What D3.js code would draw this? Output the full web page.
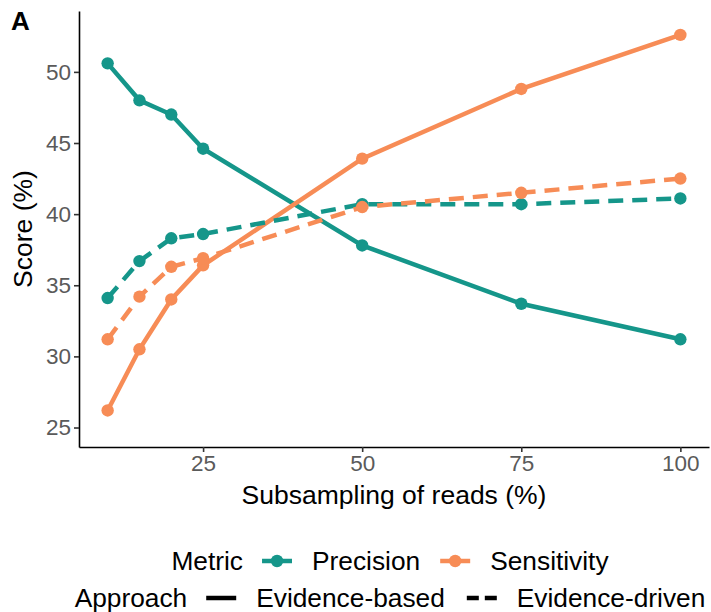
<!DOCTYPE html>
<html lang="en">
<head>
  <meta charset="UTF-8">
  <title>Score vs subsampling</title>
  <script src="https://d3js.org/d3.v7.min.js"></script>
  <style>
    body, html { margin: 0; padding: 0; background: #fff; }
    text { font-family: "Liberation Sans", Arial, sans-serif; }
  </style>
</head>
<body>
<script>
  // data
  const subsampling = [10, 15, 20, 25, 50, 75, 100];
  const precisionBased = [50.6, 48.0, 47.0, 44.6, 37.8, 33.7, 31.2];
  const sensitivityBased = [26.2, 30.5, 34.0, 36.4, 43.9, 48.8, 52.6];
  const precisionDriven = [34.1, 36.7, 38.3, 38.6, 40.7, 40.7, 41.1];
  const sensitivityDriven = [31.2, 34.2, 36.3, 36.9, 40.5, 41.5, 42.5];
  const xTicks = [25, 50, 75, 100];
  const yTicks = [25, 30, 35, 40, 45, 50];
  const metrics = ["Precision", "Sensitivity"];
  const approaches = ["Evidence-based", "Evidence-driven"];

  const colors = { Precision: "#15968a", Sensitivity: "#f78c56" };
  const dashes = { "Evidence-based": null, "Evidence-driven": "15,9" };

  const series = [
    { metric: "Precision", approach: "Evidence-based", values: precisionBased },
    { metric: "Sensitivity", approach: "Evidence-based", values: sensitivityBased },
    { metric: "Precision", approach: "Evidence-driven", values: precisionDriven },
    { metric: "Sensitivity", approach: "Evidence-driven", values: sensitivityDriven }
  ];

  const W = 711, H = 612;
  const pLeft = 79, pRight = 709, pTop = 11, pBottom = 447;

  const svg = d3.select("body").append("svg")
    .attr("width", W).attr("height", H);

  const x = d3.scaleLinear().domain([5.5, 104.5]).range([pLeft, pRight]);
  const y = d3.scaleLinear().domain([23.63, 54.28]).range([pBottom, pTop]);

  // axes
  const xAxis = svg.append("g")
    .attr("transform", `translate(0,${pBottom})`)
    .call(d3.axisBottom(x).tickValues(xTicks).tickSize(5).tickPadding(3).tickSizeOuter(0));
  const yAxis = svg.append("g")
    .attr("transform", `translate(${pLeft},0)`)
    .call(d3.axisLeft(y).tickValues(yTicks).tickSize(5).tickPadding(3).tickSizeOuter(0));

  [xAxis, yAxis].forEach(a => {
    a.select(".domain").attr("stroke", "#000").attr("stroke-width", 1.6);
    a.selectAll(".tick line").attr("stroke", "#333").attr("stroke-width", 1.6);
    a.selectAll(".tick text").attr("fill", "#5a5a5a")
      .style("font-size", "22.5px").style("font-family", "Liberation Sans, Arial, sans-serif");
  });
  xAxis.selectAll(".tick text").attr("dy", "0.72em");

  svg.append("text")
    .attr("x", (pLeft + pRight) / 2).attr("y", 495).attr("dy", "0.35em")
    .attr("text-anchor", "middle")
    .style("font-size", "26.5px")
    .text("Subsampling of reads (%)");

  svg.append("text")
    .attr("transform", `translate(23,${(pTop + pBottom) / 2}) rotate(-90)`)
    .attr("dy", "0.35em")
    .attr("text-anchor", "middle")
    .style("font-size", "26.5px")
    .text("Score (%)");

  svg.append("text")
    .attr("x", 11).attr("y", 30)
    .style("font-size", "26px").style("font-weight", "bold")
    .text("A");

  // lines and points
  const line = d3.line()
    .x((d, i) => x(subsampling[i]))
    .y(d => y(d));

  const plot = svg.append("g");
  series.forEach(s => {
    plot.append("path")
      .datum(s.values)
      .attr("d", line)
      .attr("fill", "none")
      .attr("stroke", colors[s.metric])
      .attr("stroke-width", 4.5)
      .attr("stroke-dasharray", dashes[s.approach]);
  });
  series.forEach(s => {
    plot.selectAll(null)
      .data(s.values)
      .enter().append("circle")
      .attr("cx", (d, i) => x(subsampling[i]))
      .attr("cy", d => y(d))
      .attr("r", 6.2)
      .attr("fill", colors[s.metric]);
  });

  // legend rows, centred under the panel
  function legendRow(yc, title, items, itemGap, drawKey) {
    const g = svg.append("g");
    let cx = 0;
    const t = g.append("text").attr("x", cx).attr("y", yc).attr("dy", "0.35em")
      .style("font-size", "26.3px").text(title);
    cx += t.node().getComputedTextLength() + 19;
    items.forEach((it, i) => {
      drawKey(g, cx, yc, it);
      cx += 30 + 20;
      const lt = g.append("text").attr("x", cx).attr("y", yc).attr("dy", "0.35em")
        .style("font-size", "26.3px").text(it);
      cx += lt.node().getComputedTextLength();
      if (i < items.length - 1) cx += itemGap;
    });
    const centre = (pLeft + pRight) / 2 - 4;
    g.attr("transform", `translate(${centre - cx / 2},0)`);
  }

  legendRow(561, "Metric", metrics, 20, (g, x0, yc, m) => {
    g.append("line").attr("x1", x0).attr("x2", x0 + 30).attr("y1", yc).attr("y2", yc)
      .attr("stroke", colors[m]).attr("stroke-width", 4.5);
    g.append("circle").attr("cx", x0 + 15).attr("cy", yc).attr("r", 6.2).attr("fill", colors[m]);
  });

  legendRow(598, "Approach", approaches, 22, (g, x0, yc, a) => {
    g.append("line").attr("x1", x0).attr("x2", x0 + 30).attr("y1", yc).attr("y2", yc)
      .attr("stroke", "#000").attr("stroke-width", 4.5)
      .attr("stroke-dasharray", a === "Evidence-driven" ? "12,6" : null);
  });
</script>
</body>
</html>
